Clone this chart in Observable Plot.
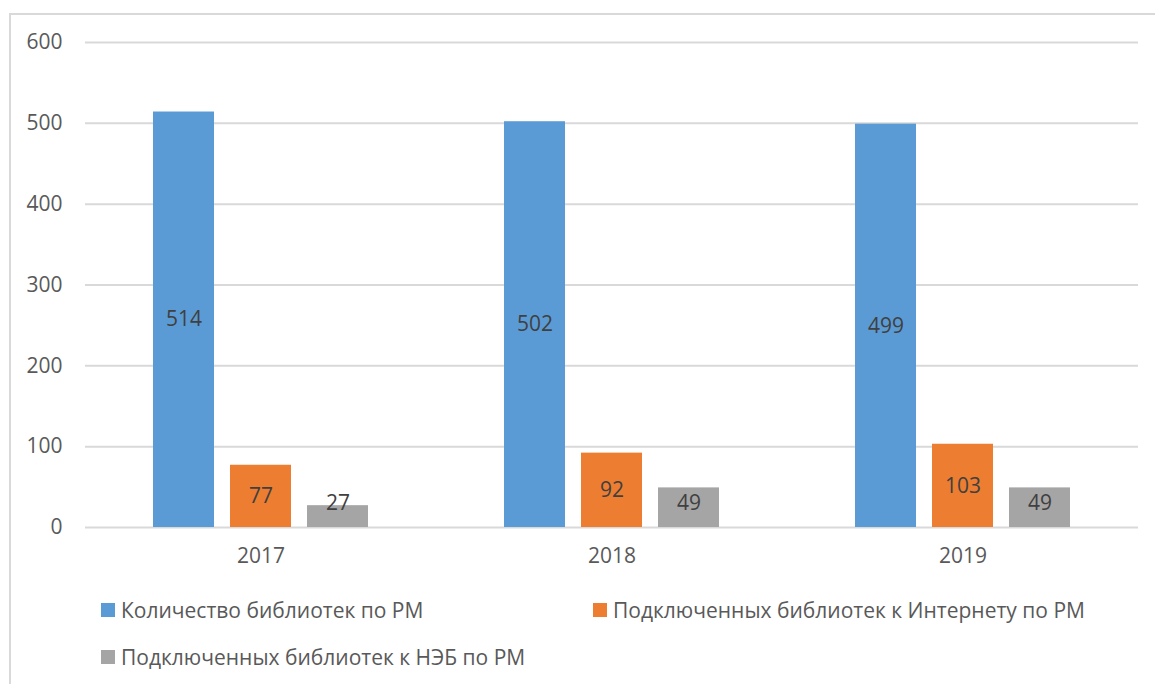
<!DOCTYPE html>
<html><head><meta charset="utf-8">
<script src="https://cdn.jsdelivr.net/npm/d3@7"></script>
<script src="https://cdn.jsdelivr.net/npm/@observablehq/plot@0.6"></script>
<style>
body{margin:0;background:#fff;font-family:"Open Sans",sans-serif;}
#frame{position:absolute;left:9px;top:13px;width:1160px;height:700px;border:2px solid #d9d9d9;box-sizing:border-box;}
#chart svg{display:block;}
#legend{display:grid;grid-template-columns:492px auto;row-gap:17px;padding-left:90px;margin-top:20px;font-size:21px;line-height:30px;color:#595959;}
.item{display:flex;align-items:center;white-space:nowrap;}
.sw{width:14px;height:14px;margin-right:6px;display:inline-block;}
</style></head>
<body>
<div id="frame"><div id="chart"></div><div id="legend"></div></div>
<script>
const years = ["2017", "2018", "2019"];
const series = ["Количество библиотек по РМ", "Подключенных библиотек к Интернету по РМ", "Подключенных библиотек к НЭБ по РМ"];
const libraries = [514, 502, 499];
const internet = [77, 92, 103];
const neb = [27, 49, 49];
const colors = ["#5B9BD5", "#ED7D31", "#A5A5A5"];
const yTicks = [0, 100, 200, 300, 400, 500, 600];

const seriesValues = [libraries, internet, neb];
const data = [];
years.forEach((y, i) => series.forEach((s, j) => data.push({year: y, series: s, value: seriesValues[j][i]})));

const chart = Plot.plot({
  width: 1140, height: 560,
  marginLeft: 74, marginRight: 13, marginTop: 27, marginBottom: 48,
  style: {fontFamily: "'Open Sans', sans-serif", fontSize: "21px", color: "#595959", background: "#fff"},
  fx: {domain: years, padding: 0, label: null, tickSize: 0, tickPadding: 21, axis: "bottom"},
  x: {domain: series, paddingInner: 0.205, paddingOuter: 0.853, axis: null},
  y: {domain: [0, 600], ticks: yTicks, tickSize: 0, tickPadding: 23, label: null},
  color: {domain: series, range: colors},
  marks: [
    Plot.ruleY(yTicks, {stroke: "#d9d9d9", strokeWidth: 2}),
    Plot.barY(data, {fx: "year", x: "series", y: "value", fill: "series"}),
    Plot.text(data, {fx: "year", x: "series", y: d => Math.max(d.value / 2, 30), text: d => String(d.value), fill: "#404040", fontSize: 21})
  ]
});
document.getElementById("chart").appendChild(chart);

const legend = document.getElementById("legend");
series.forEach((s, j) => {
  const it = document.createElement("div");
  it.className = "item";
  it.innerHTML = `<span class="sw" style="background:${colors[j]}"></span><span>${s}</span>`;
  legend.appendChild(it);
});
</script>
</body></html>
